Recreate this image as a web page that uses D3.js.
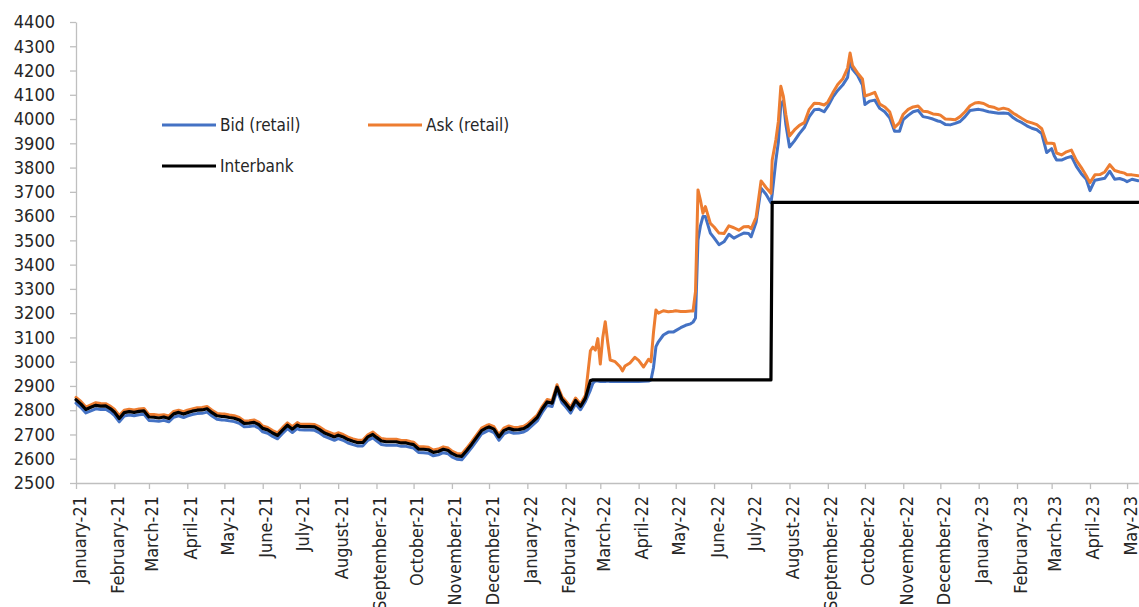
<!DOCTYPE html>
<html>
<head>
<meta charset="utf-8">
<script src="https://cdn.jsdelivr.net/npm/d3@7"></script>
<style>
  html, body { margin: 0; padding: 0; background: #fff; }
  svg { display: block; }
  text { font-family: "DejaVu Sans Condensed", "DejaVu Sans", sans-serif; font-stretch: condensed; }
</style>
</head>
<body>
<svg id="chart" width="1139" height="607"></svg>
<script>
// ---------------- DATA ----------------
const dates = [
  // 2021
  "2021-01-01","2021-01-05","2021-01-09","2021-01-13","2021-01-17","2021-01-21","2021-01-25","2021-01-29",
  "2021-02-01","2021-02-05","2021-02-09","2021-02-13","2021-02-17","2021-02-21","2021-02-25",
  "2021-03-01","2021-03-05","2021-03-09","2021-03-13","2021-03-17","2021-03-21","2021-03-25","2021-03-29",
  "2021-04-01","2021-04-05","2021-04-09","2021-04-13","2021-04-17","2021-04-21","2021-04-25","2021-04-29",
  "2021-05-01","2021-05-05","2021-05-09","2021-05-13","2021-05-17","2021-05-21","2021-05-25","2021-05-29",
  "2021-06-01","2021-06-05","2021-06-09","2021-06-13","2021-06-17","2021-06-21","2021-06-25","2021-06-29",
  "2021-07-01","2021-07-05","2021-07-09","2021-07-13","2021-07-17","2021-07-21","2021-07-25","2021-07-29",
  "2021-08-01","2021-08-05","2021-08-09","2021-08-13","2021-08-17","2021-08-21","2021-08-25","2021-08-29",
  "2021-09-01","2021-09-05","2021-09-09","2021-09-13","2021-09-17","2021-09-21","2021-09-25","2021-09-29",
  "2021-10-01","2021-10-05","2021-10-09","2021-10-13","2021-10-17","2021-10-21","2021-10-25","2021-10-29",
  "2021-11-01","2021-11-05","2021-11-09","2021-11-13","2021-11-17","2021-11-21","2021-11-25","2021-11-29",
  "2021-12-01","2021-12-05","2021-12-09","2021-12-13","2021-12-17","2021-12-21","2021-12-25","2021-12-29",
  // 2022
  "2022-01-01","2022-01-05","2022-01-09","2022-01-13","2022-01-17","2022-01-21","2022-01-25","2022-01-29",
  "2022-02-01","2022-02-05","2022-02-09","2022-02-13","2022-02-17","2022-02-21","2022-02-23","2022-02-25","2022-02-27",
  "2022-03-01","2022-03-03","2022-03-05","2022-03-07","2022-03-09","2022-03-13","2022-03-17","2022-03-19","2022-03-21","2022-03-25","2022-03-29",
  "2022-04-01","2022-04-05","2022-04-09","2022-04-11","2022-04-13","2022-04-15","2022-04-17","2022-04-21","2022-04-25","2022-04-29",
  "2022-05-01","2022-05-05","2022-05-09","2022-05-13","2022-05-15","2022-05-17","2022-05-19","2022-05-21","2022-05-23","2022-05-25","2022-05-29",
  "2022-06-01","2022-06-05","2022-06-09","2022-06-13","2022-06-17","2022-06-21","2022-06-25","2022-06-29",
  "2022-07-01","2022-07-05","2022-07-09","2022-07-13","2022-07-17","2022-07-18","2022-07-21","2022-07-23","2022-07-25","2022-07-27","2022-07-29",
  "2022-08-01","2022-08-05","2022-08-09","2022-08-13","2022-08-17","2022-08-21","2022-08-25","2022-08-29",
  "2022-09-01","2022-09-05","2022-09-09","2022-09-13","2022-09-17","2022-09-19","2022-09-21","2022-09-25","2022-09-29",
  "2022-10-01","2022-10-05","2022-10-09","2022-10-13","2022-10-17","2022-10-21","2022-10-25","2022-10-29",
  "2022-11-01","2022-11-05","2022-11-09","2022-11-13","2022-11-17","2022-11-21","2022-11-25","2022-11-29",
  "2022-12-01","2022-12-05","2022-12-09","2022-12-13","2022-12-17","2022-12-21","2022-12-25","2022-12-29",
  // 2023
  "2023-01-01","2023-01-05","2023-01-09","2023-01-13","2023-01-17","2023-01-21","2023-01-25","2023-01-29",
  "2023-02-01","2023-02-05","2023-02-09","2023-02-13","2023-02-17","2023-02-21","2023-02-25",
  "2023-03-01","2023-03-03","2023-03-05","2023-03-09","2023-03-13","2023-03-17","2023-03-21","2023-03-25","2023-03-29",
  "2023-04-01","2023-04-05","2023-04-09","2023-04-13","2023-04-17","2023-04-21","2023-04-25","2023-04-29",
  "2023-05-01","2023-05-05","2023-05-10"
];

const bid = [
  // 2021
  2829,2811,2789,2797,2806,2803,2804,2792,
  2779,2752,2776,2780,2777,2781,2783,
  2758,2757,2754,2758,2752,2771,2777,2770,
  2776,2782,2786,2787,2792,2776,2763,2760,
  2760,2756,2753,2746,2732,2733,2736,2726,
  2711,2705,2692,2682,2704,2724,2708,2725,
  2719,2718,2718,2717,2706,2692,2684,2676,
  2683,2676,2665,2658,2652,2653,2676,2686,
  2674,2659,2656,2656,2656,2651,2651,2646,
  2644,2626,2625,2623,2612,2616,2625,2620,
  2608,2598,2596,2620,2646,2674,2702,2713,
  2717,2708,2676,2702,2711,2705,2706,2710,
  // 2022
  2719,2737,2756,2791,2820,2815,2881,2831,
  2814,2788,2826,2802,2836,2883,2911,2921,2920,
  2918,2919,2918,2920,2918,2919,2918,2918,2919,2918,2918,
  2918,2919,2920,2925,2975,3062,3082,3110,3122,3122,
  3128,3140,3150,3156,3163,3180,3500,3560,3598,3598,3530,
  3510,3482,3494,3525,3509,3520,3530,3528,
  3515,3575,3715,3690,3655,3690,3830,3905,4060,4075,3980,
  3885,3910,3940,3965,4010,4038,4040,4030,
  4052,4090,4118,4140,4172,4245,4205,4180,4140,
  4060,4074,4078,4044,4030,4005,3950,3950,
  3998,4015,4030,4036,4010,4006,4000,3992,
  3990,3978,3976,3982,3990,4010,4035,4038,
  // 2023
  4040,4036,4030,4027,4024,4025,4023,4005,
  3995,3985,3972,3962,3956,3940,3862,
  3878,3850,3831,3831,3840,3846,3805,3775,3752,
  3705,3748,3752,3756,3785,3752,3755,3748,
  3742,3752,3746
];

const ask = [
  // 2021
  2853,2836,2813,2822,2831,2828,2827,2816,
  2804,2778,2800,2804,2801,2805,2807,
  2782,2782,2779,2781,2776,2795,2800,2794,
  2800,2805,2810,2811,2815,2800,2787,2784,
  2784,2780,2777,2770,2756,2757,2760,2750,
  2735,2729,2716,2707,2728,2748,2732,2749,
  2743,2742,2742,2741,2731,2717,2709,2700,
  2707,2700,2689,2682,2676,2677,2699,2710,
  2698,2683,2680,2680,2680,2675,2675,2670,
  2668,2650,2649,2647,2636,2640,2649,2644,
  2632,2622,2620,2644,2670,2698,2726,2737,
  2741,2732,2700,2726,2735,2729,2730,2734,
  // 2022
  2743,2761,2780,2815,2844,2839,2905,2856,
  2838,2812,2850,2826,2862,3045,3060,3048,3095,
  2990,3100,3165,3080,3007,3000,2979,2962,2982,2995,3018,
  3005,2978,3010,3000,3120,3213,3200,3210,3206,3208,
  3210,3207,3207,3209,3209,3290,3708,3665,3612,3639,3570,
  3555,3530,3528,3560,3552,3542,3556,3557,
  3548,3595,3745,3718,3694,3830,3915,3990,4135,4095,4020,
  3930,3955,3974,3985,4040,4065,4064,4058,
  4070,4108,4142,4165,4210,4272,4220,4190,4165,
  4095,4102,4110,4062,4050,4030,3965,3985,
  4020,4040,4050,4054,4032,4030,4021,4019,
  4016,4000,3999,3997,4010,4030,4055,4066,
  // 2023
  4068,4064,4053,4049,4040,4045,4040,4024,
  4015,4002,3990,3984,3977,3960,3900,
  3900,3898,3860,3852,3865,3872,3830,3800,3766,
  3738,3770,3771,3782,3812,3788,3782,3777,
  3770,3770,3766
];

const interbank = [
  // 2021
  2843,2825,2803,2812,2820,2817,2818,2806,
  2793,2766,2790,2794,2791,2795,2797,
  2772,2771,2768,2772,2766,2785,2791,2784,
  2790,2796,2800,2801,2806,2790,2777,2774,
  2774,2770,2767,2760,2746,2747,2750,2740,
  2725,2719,2706,2696,2718,2738,2722,2739,
  2733,2732,2732,2731,2720,2706,2698,2690,
  2697,2690,2679,2672,2666,2667,2690,2700,
  2688,2673,2670,2670,2670,2665,2665,2660,
  2658,2640,2639,2637,2626,2630,2639,2634,
  2622,2612,2610,2634,2660,2688,2716,2727,
  2731,2722,2690,2716,2725,2719,2720,2724,
  // 2022
  2733,2751,2770,2805,2834,2829,2895,2845,
  2828,2802,2840,2816,2850,2922,2925,2925,2925,
  2925,2925,2925,2925,2925,2925,2925,2925,2925,2925,2925,
  2925,2925,2925,2925,2925,2925,2925,2925,2925,2925,
  2925,2925,2925,2925,2925,2925,2925,2925,2925,2925,2925,
  2925,2925,2925,2925,2925,2925,2925,2925,
  2925,2925,2925,2925,2925,3657,3657,3657,3657,3657,3657,
  3657,3657,3657,3657,3657,3657,3657,3657,
  3657,3657,3657,3657,3657,3657,3657,3657,3657,
  3657,3657,3657,3657,3657,3657,3657,3657,
  3657,3657,3657,3657,3657,3657,3657,3657,
  3657,3657,3657,3657,3657,3657,3657,3657,
  // 2023
  3657,3657,3657,3657,3657,3657,3657,3657,
  3657,3657,3657,3657,3657,3657,3657,
  3657,3657,3657,3657,3657,3657,3657,3657,3657,
  3657,3657,3657,3657,3657,3657,3657,3657,
  3657,3657,3657
];

const yTicks = [2500,2600,2700,2800,2900,3000,3100,3200,3300,3400,3500,3600,3700,3800,3900,4000,4100,4200,4300,4400];
const xTickLabels = [
  "January-21","February-21","March-21","April-21","May-21","June-21","July-21","August-21",
  "September-21","October-21","November-21","December-21",
  "January-22","February-22","March-22","April-22","May-22","June-22","July-22","August-22",
  "September-22","October-22","November-22","December-22",
  "January-23","February-23","March-23","April-23","May-23"
];
const xTickDates = [
  "2021-01-01","2021-02-01","2021-03-01","2021-04-01","2021-05-01","2021-06-01","2021-07-01","2021-08-01",
  "2021-09-01","2021-10-01","2021-11-01","2021-12-01",
  "2022-01-01","2022-02-01","2022-03-01","2022-04-01","2022-05-01","2022-06-01","2022-07-01","2022-08-01",
  "2022-09-01","2022-10-01","2022-11-01","2022-12-01",
  "2023-01-01","2023-02-01","2023-03-01","2023-04-01","2023-05-01"
];
const seriesNames = ["Bid (retail)", "Ask (retail)", "Interbank"];
const seriesColors = ["#4472C4", "#ED7D31", "#000000"];

// ---------------- CHART ----------------
const parse = d3.utcParse("%Y-%m-%d");
const svg = d3.select("#chart");

const x = d3.scaleUtc()
  .domain([parse("2021-01-01"), parse("2023-05-10")])
  .range([76, 1138.2]);
const y = d3.scaleLinear().domain([2500, 4400]).range([483, 22]);

const axisColor = "#bfbfbf";
const fontSize = 18;

// Y axis
const yAxis = svg.append("g").attr("transform", "translate(76,0)")
  .call(d3.axisLeft(y).tickValues(yTicks).tickSize(6).tickSizeOuter(0).tickPadding(15).tickFormat(d3.format("d")));
yAxis.select(".domain").attr("stroke", axisColor).attr("stroke-width", 1.3);
yAxis.selectAll(".tick line").attr("stroke", axisColor).attr("stroke-width", 1.3);
yAxis.selectAll(".tick text").attr("fill", "#262626").style("font-size", fontSize + "px");

// X axis
const xTicks = xTickDates.map(parse);
const xAxis = svg.append("g").attr("transform", "translate(0,483)")
  .call(d3.axisBottom(x).tickValues(xTicks).tickSize(6).tickSizeOuter(0)
    .tickFormat((d, i) => xTickLabels[i]));
xAxis.select(".domain").attr("stroke", axisColor).attr("stroke-width", 1.3);
xAxis.selectAll(".tick line").attr("stroke", axisColor).attr("stroke-width", 1.3);
xAxis.selectAll(".tick text")
  .attr("fill", "#262626")
  .style("font-size", fontSize + "px")
  .attr("transform", "rotate(-90)")
  .attr("text-anchor", "end")
  .attr("x", -13)
  .attr("y", 0)
  .attr("dy", "0.5em");

// Lines
const seriesValues = [bid, ask, interbank];
const line = d3.line()
  .x(d => x(d[0]))
  .y(d => y(d[1]));

const parsedDates = dates.map(parse);
seriesValues.forEach((vals, si) => {
  const pts = parsedDates.map((d, i) => [d, vals[i]]);
  svg.append("path")
    .datum(pts)
    .attr("fill", "none")
    .attr("stroke", seriesColors[si])
    .attr("stroke-width", si === 2 ? 3.2 : 3)
    .attr("stroke-linejoin", "round")
    .attr("stroke-linecap", "round")
    .attr("d", line);
});

// Legend
const legendItems = [
  { name: seriesNames[0], color: seriesColors[0], x: 162, y: 125 },
  { name: seriesNames[1], color: seriesColors[1], x: 368, y: 125 },
  { name: seriesNames[2], color: seriesColors[2], x: 162, y: 166 }
];
const lg = svg.append("g");
legendItems.forEach(it => {
  lg.append("line").attr("x1", it.x).attr("x2", it.x + 54).attr("y1", it.y).attr("y2", it.y)
    .attr("stroke", it.color).attr("stroke-width", 3);
  lg.append("text").attr("x", it.x + 58).attr("y", it.y).attr("dy", "0.35em")
    .attr("fill", "#262626").style("font-size", "17px").text(it.name);
});
</script>
</body>
</html>
